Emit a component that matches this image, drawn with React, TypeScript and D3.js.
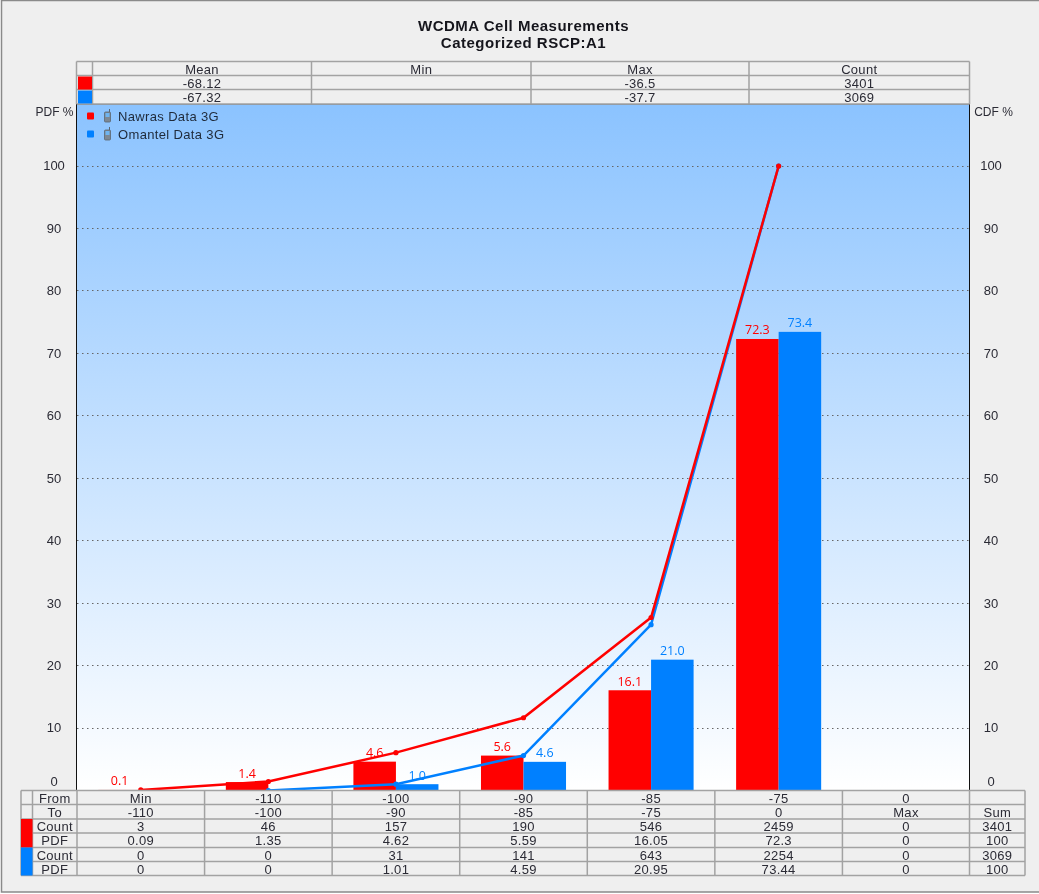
import React, { useEffect, useRef } from 'react';
import * as d3 from 'd3';

const titleLines = ['WCDMA Cell Measurements', 'Categorized RSCP:A1'];
const seriesNames = ['Nawras Data 3G', 'Omantel Data 3G'];
const seriesColors = ['#ff0000', '#0080ff'];

// categories are the "From" row of the bottom table
const fromLabels = ['Min', '-110', '-100', '-90', '-85', '-75', '0'];
const toLabels = ['-110', '-100', '-90', '-85', '-75', '0', 'Max'];

const nawrasCount = [3, 46, 157, 190, 546, 2459, 0];
const nawrasPdf = [0.09, 1.35, 4.62, 5.59, 16.05, 72.3, 0];
const nawrasCdf = [0.09, 1.44, 6.06, 11.65, 27.7, 100, null];
const nawrasLabels = ['0.1', '1.4', '4.6', '5.6', '16.1', '72.3', ''];

const omantelCount = [0, 0, 31, 141, 643, 2254, 0];
const omantelPdf = [0, 0, 1.01, 4.59, 20.95, 73.44, 0];
const omantelCdf = [null, 0, 1.01, 5.6, 26.55, 100, null];
const omantelLabels = ['', '', '1.0', '4.6', '21.0', '73.4', ''];

const yTicks = [0, 10, 20, 30, 40, 50, 60, 70, 80, 90, 100];

const summaryHeaders = ['Mean', 'Min', 'Max', 'Count'];
const summaryRows = [
  ['-68.12', '', '-36.5', '3401'],
  ['-67.32', '', '-37.7', '3069'],
];

const WIDTH = 1039;
const HEIGHT = 894;
const FONT = '"Liberation Sans", Arial, sans-serif';
const TEXT = '#2b2b35';
const BORDER = '#a2a2a2';
const BG = '#efefef';

const plot = { left: 77, right: 970, top: 104, bottom: 790.5 };

const App = () => {
  const ref = useRef<SVGSVGElement>(null);

  useEffect(() => {
    const svg = d3.select(ref.current);
    svg.selectAll('*').remove();

    const x = d3
      .scaleBand()
      .domain(fromLabels)
      .range([plot.left, plot.right])
      .paddingInner(1 / 3)
      .paddingOuter(1 / 6);
    const step = x.step();
    const center = (c: string) => x(c)! + x.bandwidth() / 2;

    const y = d3
      .scaleLinear()
      .domain([0, 100])
      .range([plot.bottom, 166]);

    const defs = svg.append('defs');
    const grad = defs
      .append('linearGradient')
      .attr('id', 'plotBg')
      .attr('x1', 0)
      .attr('y1', 0)
      .attr('x2', 0)
      .attr('y2', 1);
    grad.append('stop').attr('offset', 0).attr('stop-color', '#8bc3ff');
    grad.append('stop').attr('offset', 1).attr('stop-color', '#ffffff');

    // frame
    svg
      .append('rect')
      .attr('x', 1.5)
      .attr('y', 0.5)
      .attr('width', WIDTH)
      .attr('height', 891.5)
      .attr('fill', BG)
      .attr('stroke', '#8a8a8a')
      .attr('stroke-width', 1.5);

    // title
    svg
      .append('g')
      .selectAll('text')
      .data(titleLines)
      .join('text')
      .attr('x', 523.5)
      .attr('y', (d, i) => 31 + i * 17)
      .attr('text-anchor', 'middle')
      .attr('font-family', FONT)
      .attr('font-weight', 'bold')
      .attr('font-size', 15)
      .attr('letter-spacing', 0.5)
      .attr('fill', '#15151c')
      .text((d) => d);

    // plot background
    svg
      .append('rect')
      .attr('x', plot.left)
      .attr('y', plot.top)
      .attr('width', plot.right - plot.left)
      .attr('height', plot.bottom - plot.top)
      .attr('fill', 'url(#plotBg)');

    // grid
    svg
      .append('g')
      .selectAll('line')
      .data(yTicks.filter((d) => d > 0))
      .join('line')
      .attr('x1', plot.left)
      .attr('x2', plot.right)
      .attr('y1', (d) => Math.floor(y(d)) + 0.5)
      .attr('y2', (d) => Math.floor(y(d)) + 0.5)
      .attr('stroke', '#666')
      .attr('stroke-dasharray', '1.5 3.5');

    // axes
    const yAxisLeft = d3.axisLeft(y).tickValues(yTicks).tickSize(0).tickPadding(0);
    const yAxisRight = d3.axisRight(y).tickValues(yTicks).tickSize(0).tickPadding(0);
    const styleAxis = (g: any) => {
      g.select('.domain').remove();
      g.selectAll('text')
        .attr('text-anchor', 'middle')
        .attr('x', 0)
        .attr('font-family', FONT)
        .attr('font-size', 13)
        .attr('fill', TEXT)
        // the 0 label sits above the table
        .attr('dy', (d: number) => (d === 0 ? '-0.35em' : '0.3em'));
    };
    svg.append('g').attr('transform', 'translate(54,0)').call(yAxisLeft).call(styleAxis);
    svg.append('g').attr('transform', 'translate(991,0)').call(yAxisRight).call(styleAxis);

    [
      { label: 'PDF %', at: 54.5 },
      { label: 'CDF %', at: 993.5 },
    ].forEach((a) => {
      svg
        .append('text')
        .attr('x', a.at)
        .attr('y', 116)
        .attr('text-anchor', 'middle')
        .attr('font-family', FONT)
        .attr('font-size', 12)
        .attr('fill', TEXT)
        .text(a.label);
    });

    // bars
    const xInner = d3
      .scaleBand()
      .domain(seriesNames)
      .range([0, x.bandwidth()]);

    const series = [
      { name: seriesNames[0], color: seriesColors[0], pdf: nawrasPdf, cdf: nawrasCdf, labels: nawrasLabels },
      { name: seriesNames[1], color: seriesColors[1], pdf: omantelPdf, cdf: omantelCdf, labels: omantelLabels },
    ];

    series.forEach((s) => {
      const left = (i: number) => x(fromLabels[i])! + xInner(s.name)!;
      svg
        .append('g')
        .selectAll('rect')
        .data(s.pdf)
        .join('rect')
        .attr('x', (d, i) => left(i))
        .attr('y', (d) => y(d))
        .attr('width', xInner.bandwidth())
        .attr('height', (d) => y(0) - y(d))
        .attr('fill', s.color);

      svg
        .append('g')
        .selectAll('text')
        .data(s.labels)
        .join('text')
        .attr('x', (d, i) => left(i) + xInner.bandwidth() / 2)
        .attr('y', (d, i) => y(s.pdf[i]) - 4.5)
        .attr('text-anchor', 'middle')
        .attr('font-family', '"Open Sans", sans-serif')
        .attr('font-size', 12.5)
        .attr('fill', s.color)
        .text((d) => d);
    });

    // CDF lines, red is drawn last
    [series[1], series[0]].forEach((s) => {
      const line = d3
        .line<number | null>()
        .defined((d) => d !== null)
        .x((d, i) => center(fromLabels[i]))
        .y((d) => y(d as number));
      svg
        .append('path')
        .attr('d', line(s.cdf))
        .attr('fill', 'none')
        .attr('stroke', s.color)
        .attr('stroke-width', 2.5);
      svg
        .append('g')
        .selectAll('circle')
        .data(s.cdf.map((v, i) => ({ v, c: fromLabels[i] })).filter((d) => d.v !== null))
        .join('circle')
        .attr('cx', (d) => center(d.c))
        .attr('cy', (d) => y(d.v as number))
        .attr('r', 2.6)
        .attr('fill', s.color);
    });

    // plot border
    svg
      .append('line')
      .attr('x1', plot.left - 0.5)
      .attr('x2', plot.left - 0.5)
      .attr('y1', plot.top)
      .attr('y2', plot.bottom)
      .attr('stroke', '#111');
    svg
      .append('line')
      .attr('x1', plot.right - 0.5)
      .attr('x2', plot.right - 0.5)
      .attr('y1', plot.top)
      .attr('y2', plot.bottom)
      .attr('stroke', '#111');
    svg
      .append('line')
      .attr('x1', plot.left)
      .attr('x2', plot.right)
      .attr('y1', plot.top)
      .attr('y2', plot.top)
      .attr('stroke', '#555');

    // legend
    const legend = svg
      .append('g')
      .selectAll('g')
      .data(seriesNames)
      .join('g')
      .attr('transform', (d, i) => `translate(0,${116 + i * 18})`);
    legend
      .append('rect')
      .attr('x', 87)
      .attr('y', -3.5)
      .attr('width', 7)
      .attr('height', 7)
      .attr('rx', 1)
      .attr('fill', (d, i) => seriesColors[i]);
    // little phone icon
    legend
      .append('rect')
      .attr('x', 104.5)
      .attr('y', -4)
      .attr('width', 6)
      .attr('height', 10)
      .attr('rx', 1)
      .attr('fill', '#7d8894')
      .attr('stroke', '#5c6670')
      .attr('stroke-width', 0.8);
    legend
      .append('rect')
      .attr('x', 105.5)
      .attr('y', -3)
      .attr('width', 4)
      .attr('height', 4)
      .attr('fill', '#6fb4f0');
    legend
      .append('line')
      .attr('x1', 109.5)
      .attr('x2', 109.5)
      .attr('y1', -4)
      .attr('y2', -7)
      .attr('stroke', '#5c6670');
    legend
      .append('text')
      .attr('x', 118)
      .attr('y', 4.5)
      .attr('font-family', FONT)
      .attr('font-size', 13)
      .attr('letter-spacing', 0.35)
      .attr('fill', '#1f2a3a')
      .text((d) => d);

    // generic table helper
    const drawTable = (xs: number[], ys: number[], rows: string[][]) => {
      const t = svg.append('g');
      t.append('rect')
        .attr('x', xs[0])
        .attr('y', ys[0])
        .attr('width', xs[xs.length - 1] - xs[0])
        .attr('height', ys[ys.length - 1] - ys[0])
        .attr('fill', BG);
      rows.forEach((row, r) => {
        row.forEach((cell, c) => {
          t.append('text')
            .attr('x', (xs[c] + xs[c + 1]) / 2)
            .attr('y', (ys[r] + ys[r + 1]) / 2 + 5)
            .attr('text-anchor', 'middle')
            .attr('font-family', FONT)
            .attr('font-size', 13)
            .attr('letter-spacing', 0.3)
            .attr('fill', TEXT)
            .text(cell);
        });
      });
      return t;
    };
    const gridLines = (t: any, xs: number[], ys: number[]) => {
      xs.forEach((v) => {
        t.append('line')
          .attr('x1', v)
          .attr('x2', v)
          .attr('y1', ys[0])
          .attr('y2', ys[ys.length - 1])
          .attr('stroke', BORDER)
          .attr('stroke-width', 1.5);
      });
      ys.forEach((v) => {
        t.append('line')
          .attr('x1', xs[0])
          .attr('x2', xs[xs.length - 1])
          .attr('y1', v)
          .attr('y2', v)
          .attr('stroke', BORDER)
          .attr('stroke-width', 1.5);
      });
    };

    // top summary table
    const topXs = [76.5, 92.5, 311.5, 531, 749, 969.5];
    const topYs = [61.5, 75.5, 89.5, 104];
    const topRows = [
      ['', ...summaryHeaders],
      ['', ...summaryRows[0]],
      ['', ...summaryRows[1]],
    ];
    const topTable = drawTable(topXs, topYs, topRows);
    gridLines(topTable, topXs, topYs);
    seriesColors.forEach((c, i) => {
      topTable
        .append('rect')
        .attr('x', 78)
        .attr('y', topYs[i + 1] + 1)
        .attr('width', 14)
        .attr('height', 13)
        .attr('fill', c);
    });

    // bottom table
    const colEdges = fromLabels.map((c) => x(c)! - (step - x.bandwidth()) / 2);
    const botXs = [21, 32.5, ...colEdges, plot.right - 0.5, 1025];
    const botYs = [790.5, 804.5, 819, 833, 847.5, 861.5, 875.5];
    const botRows = [
      ['', 'From', ...fromLabels, ''],
      ['', 'To', ...toLabels, 'Sum'],
      ['', 'Count', ...nawrasCount.map(String), String(d3.sum(nawrasCount))],
      ['', 'PDF', ...nawrasPdf.map(String), '100'],
      ['', 'Count', ...omantelCount.map(String), String(d3.sum(omantelCount))],
      ['', 'PDF', ...omantelPdf.map(String), '100'],
    ];
    const botTable = drawTable(botXs, botYs, botRows);
    gridLines(botTable, botXs, botYs);
    seriesColors.forEach((c, i) => {
      botTable
        .append('rect')
        .attr('x', 21)
        .attr('y', botYs[2 + i * 2])
        .attr('width', 11.5)
        .attr('height', botYs[4 + i * 2] - botYs[2 + i * 2])
        .attr('fill', c);
    });
  }, []);

  return (
    <svg
      ref={ref}
      width={WIDTH}
      height={HEIGHT}
      style={{ position: 'absolute', left: 0, top: 0, background: '#fff', filter: 'blur(0.35px)' }}
    />
  );
};

export default App;
